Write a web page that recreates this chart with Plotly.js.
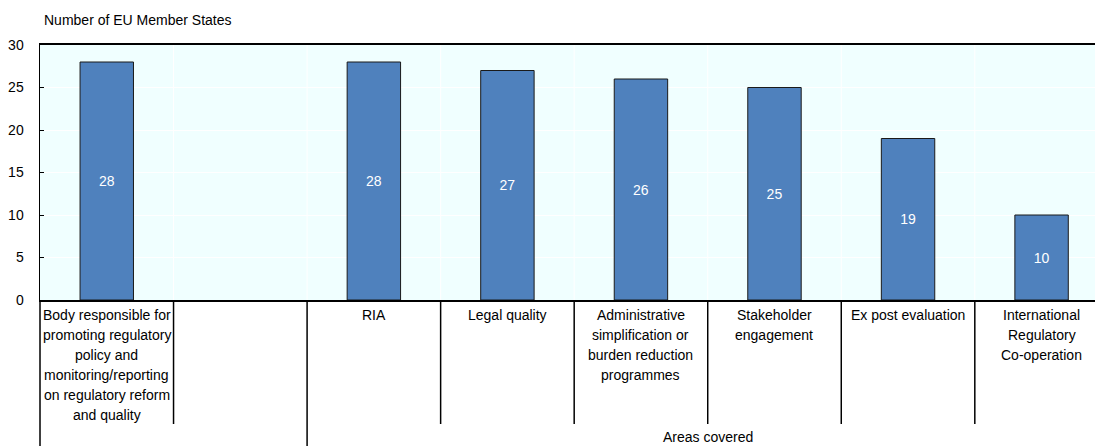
<!DOCTYPE html>
<html>
<head>
<meta charset="utf-8">
<script src="https://cdn.plot.ly/plotly-3.0.1.min.js"></script>
<style>
  html, body { margin: 0; padding: 0; background: #ffffff; }
  #chart { width: 1095px; height: 446px; }
</style>
</head>
<body>
<div id="chart"></div>
<script>
// Category labels, one array of wrapped lines per category (the second slot is an empty spacer)
const categoryLines = [
  ["Body responsible for", "promoting regulatory", "policy and", "monitoring/reporting", "on regulatory reform", "and quality"],
  [],
  ["RIA"],
  ["Legal quality"],
  ["Administrative", "simplification or", "burden reduction", "programmes"],
  ["Stakeholder", "engagement"],
  ["Ex post evaluation"],
  ["International", "Regulatory", "Co-operation"]
];

// Number of EU Member States per category (null = spacer with no bar)
const memberStates = [28, null, 28, 27, 26, 25, 19, 10];

const yTickValues = [0, 5, 10, 15, 20, 25, 30];
const yAxisLabel = "Number of EU Member States";
const groupLabel = "Areas covered";
const groupStart = 2;  // first category in the "Areas covered" group
const groupEnd = 7;    // last category in the group

const FONT = "Liberation Sans, Arial, sans-serif";
const catIndex = categoryLines.map((_, i) => i);

const trace = {
  type: "bar",
  x: catIndex,
  y: memberStates,
  width: 0.4,
  marker: { color: "#4F81BD", line: { color: "#1a1a1a", width: 1 } },
  text: memberStates.map(v => v === null ? "" : String(v)),
  textposition: "inside",
  insidetextanchor: "middle",
  textangle: 0,
  textfont: { family: FONT, size: 14, color: "#ffffff" },
  hoverinfo: "skip",
  cliponaxis: false
};

// Plot height in px, used to express table line lengths in paper units
const plotTop = 45, plotBottom = 300, figH = 446;
const plotH = plotBottom - plotTop;
const innerLineBottom = -(424 - plotBottom) / plotH;
const outerLineBottom = -(figH - plotBottom) / plotH;

const shapes = [];
// White vertical gridlines at category boundaries inside the plot
for (let k = 0; k < categoryLines.length - 1; k++) {
  shapes.push({
    type: "line", xref: "x", yref: "paper",
    x0: k + 0.5, x1: k + 0.5, y0: 0, y1: 1,
    line: { color: "#ffffff", width: 1 }, layer: "below"
  });
}
// Table separators beneath the axis
for (let k = 0; k < categoryLines.length - 1; k++) {
  const full = (k + 0.5 === groupStart - 0.5);
  shapes.push({
    type: "line", xref: "x", yref: "paper",
    x0: k + 0.5, x1: k + 0.5, y0: 0, y1: full ? outerLineBottom : innerLineBottom,
    line: { color: "#000000", width: 1.5 }
  });
}
// Left edge of the table runs the full height
shapes.push({
  type: "line", xref: "paper", yref: "paper",
  x0: 0, x1: 0, y0: 0, y1: outerLineBottom,
  line: { color: "#000000", width: 1.5 }
});

const annotations = [];
categoryLines.forEach((lines, i) => {
  lines.forEach((line, j) => {
    annotations.push({
      x: i, xref: "x", y: 0, yref: "paper",
      xanchor: "center", yanchor: "middle",
      yshift: -(15 + 20 * j),
      text: line, showarrow: false,
      font: { family: FONT, size: 14, color: "#000000" }
    });
  });
});
annotations.push({
  x: (groupStart + groupEnd) / 2, xref: "x", y: 0, yref: "paper",
  xanchor: "center", yanchor: "middle", yshift: -137,
  text: groupLabel, showarrow: false,
  font: { family: FONT, size: 14, color: "#000000" }
});
annotations.push({
  x: 0, xref: "paper", y: 1, yref: "paper",
  xanchor: "left", yanchor: "middle", xshift: 2, yshift: 25,
  text: yAxisLabel, showarrow: false,
  font: { family: FONT, size: 14, color: "#000000" }
});

const layout = {
  width: 1095, height: 446,
  margin: { l: 40, r: 0, t: plotTop, b: figH - plotBottom, pad: 0 },
  paper_bgcolor: "#ffffff",
  plot_bgcolor: "#F0FFFF",
  showlegend: false,
  bargap: 0.6,
  font: { family: FONT, size: 14, color: "#000000" },
  xaxis: {
    type: "linear",
    range: [-0.5, 7.4],
    showticklabels: false,
    ticks: "",
    showgrid: false,
    zeroline: false,
    showline: true, linecolor: "#000000", linewidth: 2, mirror: true,
    fixedrange: true
  },
  yaxis: {
    range: [0, 30],
    tickvals: yTickValues,
    ticks: "inside", ticklen: 4, tickwidth: 1, tickcolor: "#000000",
    ticklabelstandoff: 12,
    tickfont: { family: FONT, size: 14, color: "#000000" },
    showgrid: true, gridcolor: "#ffffff", gridwidth: 1,
    zeroline: false,
    showline: true, linecolor: "#000000", linewidth: 1.5,
    fixedrange: true
  },
  shapes: shapes,
  annotations: annotations
};

Plotly.newPlot("chart", [trace], layout, { displayModeBar: false, staticPlot: true });
</script>
</body>
</html>
